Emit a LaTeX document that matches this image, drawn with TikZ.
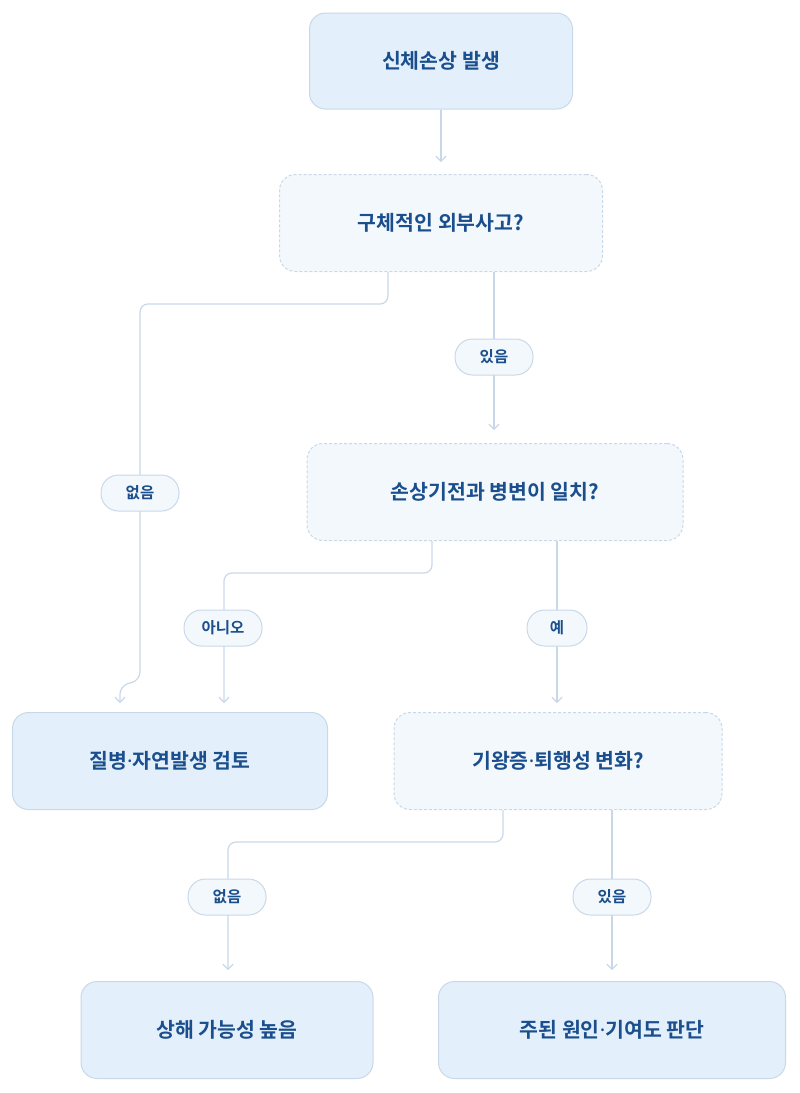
\documentclass[tikz,border=0pt]{standalone}
\usepackage{fontspec}
\newfontfamily\kr{Noto Sans CJK KR}[BoldFont={* Bold}]
\newfontfamily\ns{Noto Sans}
\newcommand{\md}{{\ns\bfseries ·}}
\usetikzlibrary{arrows.meta}
\definecolor{bd}{HTML}{C9D8E8}
\definecolor{fs}{HTML}{E3F0FC}
\definecolor{fd}{HTML}{F3F8FD}
\definecolor{tx}{HTML}{1A4E8C}
\begin{document}
\begin{tikzpicture}[x=1pt,y=-1pt,
 box/.style={draw=bd,line width=1pt,fill=fs,rounded corners=16pt,font=\kr\bfseries\fontsize{20.5}{24}\selectfont,text=tx},
 dbox/.style={box,fill=fd,dashed,dash pattern=on 3pt off 2pt},
 pill/.style={draw=bd,line width=1pt,fill=fd,rounded corners=17.5pt,minimum height=36pt,minimum width=78pt,inner xsep=14pt,font=\kr\bfseries\fontsize{15.5}{18}\selectfont,text=tx},
 ln/.style={draw=bd,line width=1.2pt,rounded corners=8pt},
 ar/.style={ln,-{Straight Barb[length=5pt,width=10pt]}}]
\useasboundingbox (0,0) rectangle (800,1093);
\node[box,minimum width=263pt,minimum height=96pt] (A) at (441,61) {신체손상 발생};
\node[dbox,minimum width=323pt,minimum height=97pt] (B) at (441,223) {구체적인 외부사고?};
\node[dbox,minimum width=376pt,minimum height=97pt] (C) at (495,492) {손상기전과 병변이 일치?};
\node[box,minimum width=315pt,minimum height=97pt] (D) at (170,761) {질병\md 자연발생 검토};
\node[dbox,minimum width=328pt,minimum height=97pt] (E) at (558,761) {기왕증\md 퇴행성 변화?};
\node[box,minimum width=292pt,minimum height=97pt] (F) at (227,1030) {상해 가능성 높음};
\node[box,minimum width=347pt,minimum height=97pt] (G) at (612,1030) {주된 원인\md 기여도 판단};
\coordinate (a1) at (441,162);
\coordinate (b1) at (120,703);
\coordinate (b2) at (494,430);
\coordinate (c1) at (224,703);
\coordinate (c2) at (557,703);
\coordinate (e1) at (228,970);
\coordinate (e2) at (612,970);
\draw[ar] (A.south) -- (a1);
\draw[ar] (B.south -| 388,0) -- (388,304) -- (140,304) -- (140,680) -- (120,686) -- (b1);
\draw[ar] (B.south -| b2) -- (b2);
\draw[ar] (C.south -| 432,0) -- (432,573) -- (224,573) -- (c1);
\draw[ar] (C.south -| c2) -- (c2);
\draw[ar] (E.south -| 503,0) -- (503,842) -- (228,842) -- (e1);
\draw[ar] (E.south -| e2) -- (e2);
\node[pill] (l1) at (494,357) {있음};
\node[pill] (l2) at (140,493) {없음};
\node[pill] (l3) at (223,628) {아니오};
\node[pill,minimum width=60pt] (l4) at (557,628) {예};
\node[pill] (l5) at (227,897) {없음};
\node[pill] (l6) at (612,897) {있음};
\end{tikzpicture}
\end{document}
